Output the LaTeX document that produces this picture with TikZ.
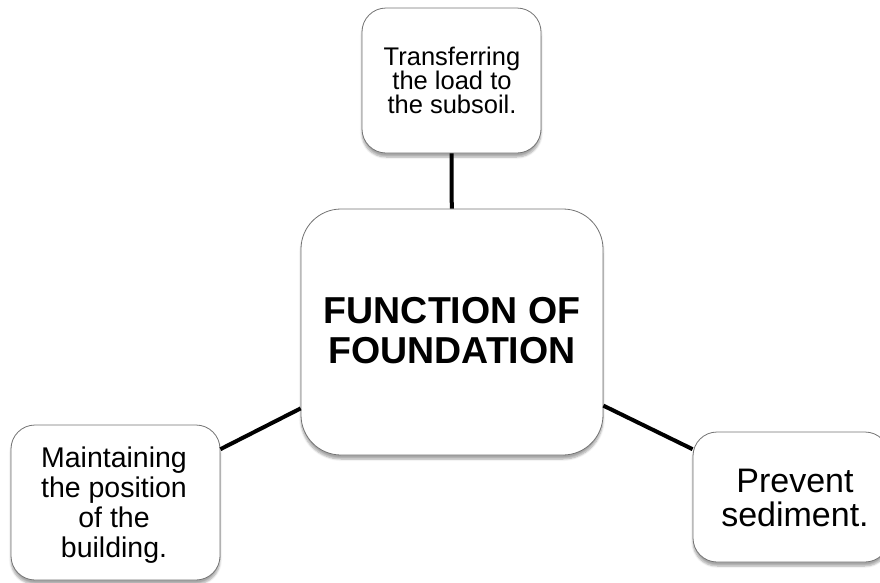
\documentclass[tikz,border=0pt]{standalone}
\usepackage{fontspec}
\setmainfont{Liberation Sans}
\usetikzlibrary{shadows.blur}
\begin{document}
\begin{tikzpicture}[x=1pt,y=-1pt,
  box/.style={draw=black!55, line width=0.8pt, fill=white, rounded corners=24pt,
    align=center, inner sep=0pt,
    blur shadow={shadow xshift=0pt, shadow yshift=-4pt, shadow blur steps=6, shadow opacity=35}},
  txt/.style={align=center, inner sep=0pt},
  link/.style={line width=4pt, black}]
\useasboundingbox (0,0) rectangle (880,582);
\node[box, minimum width=179pt, minimum height=145pt] (top) at (451.5,80.5) {};
\node[box, minimum width=302pt, minimum height=246pt, rounded corners=40pt] (center) at (452,332) {};
\node[box, minimum width=209pt, minimum height=155pt] (left) at (115.5,502.5) {};
\node[box, minimum width=196pt, minimum height=130pt] (right) at (791,497) {};
\node[txt, font=\fontsize{25.5}{24}\selectfont, anchor=base] (toptext) at (452,113)
  {Transferring\\the load to\\the subsoil.};
\node[txt, font=\fontsize{37.5}{40.5}\selectfont\bfseries, anchor=base] (centertext) at (452,363.5)
  {FUNCTION OF\\FOUNDATION};
\node[txt, font=\fontsize{28.5}{30}\selectfont, anchor=base] (lefttext) at (114,557)
  {Maintaining\\the position\\of the\\building.};
\node[txt, font=\fontsize{34}{34}\selectfont, anchor=base] (righttext) at (795,526)
  {Prevent\\sediment.};
\draw[link] (top) -- (center);
\draw[link] (left) -- (center);
\draw[link] (center) -- (right);
\end{tikzpicture}
\end{document}
